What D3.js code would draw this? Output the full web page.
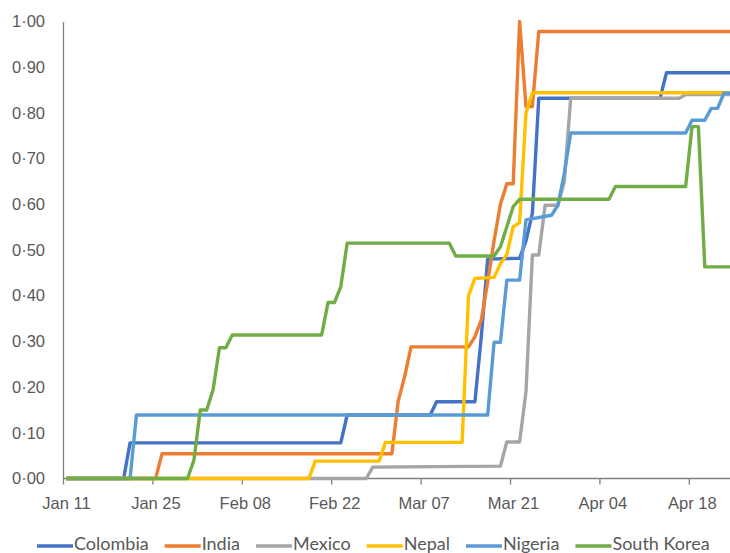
<!DOCTYPE html>
<html>
<head>
<meta charset="utf-8">
<script src="https://cdn.jsdelivr.net/npm/d3@7"></script>
<style>
  body { margin: 0; background: #fff; }
  svg { display: block; font-family: Lato, "Open Sans", sans-serif; }
</style>
</head>
<body>
<div id="chart"></div>
<script>
// values: [date, share]
var colombia = [["2020-01-11",0],["2020-01-20",0],["2020-01-21",0.078],["2020-02-23",0.078],["2020-02-24",0.139],
  ["2020-03-08",0.139],["2020-03-09",0.168],["2020-03-15",0.168],["2020-03-16",0.31],["2020-03-17",0.48],["2020-03-22",0.482],
  ["2020-03-23",0.52],["2020-03-24",0.58],["2020-03-25",0.832],["2020-04-13",0.832],["2020-04-14",0.888],["2020-04-25",0.888]];
var india = [["2020-01-11",0],["2020-01-25",0],["2020-01-26",0.054],["2020-03-02",0.054],["2020-03-03",0.17],["2020-03-04",0.223],
  ["2020-03-05",0.288],["2020-03-14",0.288],["2020-03-15",0.31],["2020-03-16",0.347],["2020-03-17",0.43],["2020-03-18",0.52],
  ["2020-03-19",0.6],["2020-03-20",0.645],["2020-03-21",0.645],["2020-03-22",1.0],["2020-03-23",0.814],["2020-03-24",0.814],
  ["2020-03-25",0.978],["2020-04-25",0.978]];
var mexico = [["2020-01-11",0],["2020-02-27",0],["2020-02-28",0.025],["2020-03-19",0.027],["2020-03-20",0.08],["2020-03-22",0.08],
  ["2020-03-23",0.19],["2020-03-24",0.489],["2020-03-25",0.489],["2020-03-26",0.598],["2020-03-28",0.598],["2020-03-29",0.65],
  ["2020-03-30",0.832],["2020-04-16",0.832],["2020-04-17",0.84],["2020-04-25",0.84]];
var nepal = [["2020-01-11",0],["2020-02-18",0],["2020-02-19",0.038],["2020-02-29",0.038],["2020-03-01",0.079],["2020-03-13",0.079],
  ["2020-03-14",0.40],["2020-03-15",0.438],["2020-03-18",0.44],["2020-03-19",0.47],["2020-03-20",0.49],["2020-03-21",0.551],
  ["2020-03-22",0.56],["2020-03-23",0.80],["2020-03-24",0.844],["2020-04-25",0.844]];
var nigeria = [["2020-01-11",0],["2020-01-21",0],["2020-01-22",0.139],["2020-03-17",0.139],["2020-03-18",0.298],["2020-03-19",0.298],
  ["2020-03-20",0.434],["2020-03-22",0.434],["2020-03-23",0.566],["2020-03-27",0.576],["2020-03-28",0.598],["2020-03-29",0.668],
  ["2020-03-30",0.756],["2020-04-17",0.756],["2020-04-18",0.784],["2020-04-20",0.784],["2020-04-21",0.81],["2020-04-22",0.81],
  ["2020-04-23",0.843],["2020-04-25",0.843]];
var southKorea = [["2020-01-11",0],["2020-01-30",0],["2020-01-31",0.04],["2020-02-01",0.15],["2020-02-02",0.15],["2020-02-03",0.194],
  ["2020-02-04",0.286],["2020-02-05",0.286],["2020-02-06",0.314],["2020-02-20",0.314],["2020-02-21",0.385],["2020-02-22",0.385],
  ["2020-02-23",0.42],["2020-02-24",0.515],["2020-03-11",0.515],["2020-03-12",0.487],["2020-03-18",0.487],["2020-03-19",0.507],
  ["2020-03-20",0.551],["2020-03-21",0.595],["2020-03-22",0.611],["2020-04-05",0.611],["2020-04-06",0.639],["2020-04-17",0.639],
  ["2020-04-18",0.77],["2020-04-19",0.77],["2020-04-20",0.463],["2020-04-25",0.463]];

var names = ["Colombia", "India", "Mexico", "Nepal", "Nigeria", "South Korea"];
var colors = ["#4472c4", "#ed7d31", "#a5a5a5", "#ffc000", "#5b9bd5", "#70ad47"];
var xTicks = ["2020-01-11","2020-01-25","2020-02-08","2020-02-22","2020-03-07","2020-03-21","2020-04-04","2020-04-18"];
var yTicks = [0, 0.1, 0.2, 0.3, 0.4, 0.5, 0.6, 0.7, 0.8, 0.9, 1.0];

var width = 730, height = 553;
var parse = d3.timeParse("%Y-%m-%d");
var series = [colombia, india, mexico, nepal, nigeria, southKorea];

var svg = d3.select("#chart").append("svg")
    .attr("width", width)
    .attr("height", height);

var x = d3.scaleTime()
    .domain([parse("2020-01-11"), parse("2020-04-27")])
    .range([63, 63 + 107 * 6.386]);
var y = d3.scaleLinear().domain([0, 1]).range([478.5, 21.5]);

// points sit in the middle of their day, like the original date axis
function px(d) { return x(d3.timeHour.offset(parse(d[0]), 12)); }

// x axis
var xAxis = svg.append("g")
    .attr("transform", "translate(0," + y(0) + ")")
    .call(d3.axisBottom(x)
        .tickValues(xTicks.map(parse))
        .tickFormat(d3.timeFormat("%b %d"))
        .tickSize(6)
        .tickSizeOuter(0));
xAxis.select(".domain").attr("stroke", "#7f7f7f").attr("stroke-width", 1.3);
xAxis.selectAll(".tick line").attr("stroke", "#7f7f7f").attr("stroke-width", 1.3);
xAxis.selectAll(".tick text")
    .attr("y", 19)
    .attr("dx", 3)
    .attr("fill", "#595959")
    .style("font-size", "16.5px");
xAxis.select(".domain").attr("d", "M63,0H" + width);

// y axis
var yAxis = svg.append("g")
    .attr("transform", "translate(63,0)")
    .call(d3.axisLeft(y)
        .tickValues(yTicks)
        .tickFormat(function(d) { return d3.format(".2f")(d).replace(".", "\u00b7"); })
        .tickSize(0)
        .tickPadding(18));
yAxis.select(".domain").attr("stroke", "#7f7f7f").attr("stroke-width", 1.3);
yAxis.selectAll(".tick text")
    .attr("fill", "#595959")
    .style("font-size", "16.5px");

var line = d3.line()
    .x(px)
    .y(function(d) { return y(d[1]); });

svg.append("g").selectAll("path")
    .data(series)
    .enter().append("path")
    .attr("fill", "none")
    .attr("stroke", function(d, i) { return colors[i]; })
    .attr("stroke-width", 3.4)
    .attr("stroke-linejoin", "round")
    .attr("d", line);

// legend
var legend = svg.append("g");
var cx = 37;
names.forEach(function(n, i) {
    legend.append("line")
        .attr("x1", cx).attr("x2", cx + 36)
        .attr("y1", 546).attr("y2", 546)
        .attr("stroke", colors[i])
        .attr("stroke-width", 3.4);
    var t = legend.append("text")
        .attr("x", cx + 37)
        .attr("y", 550)
        .attr("fill", "#595959")
        .style("font-size", "18px")
        .text(n);
    cx += 37 + t.node().getComputedTextLength() + 16;
});
</script>
</body>
</html>
